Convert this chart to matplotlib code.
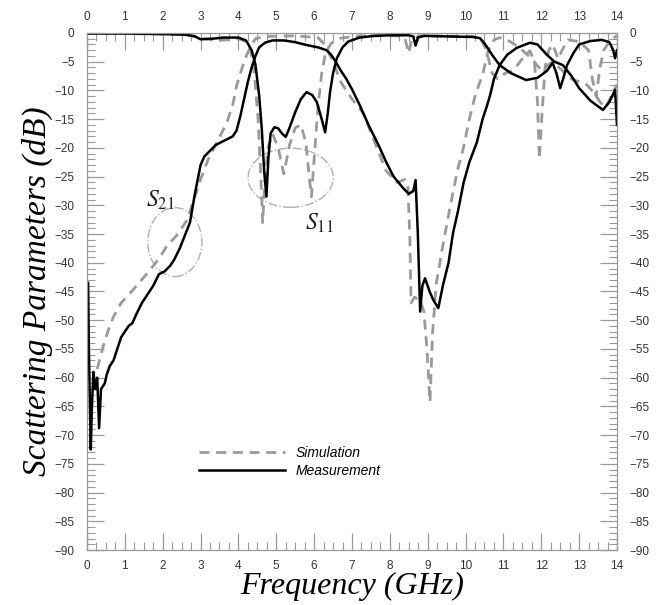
import matplotlib
matplotlib.use('Agg')
import matplotlib.pyplot as plt
from matplotlib.patches import Ellipse
from matplotlib.ticker import MultipleLocator

# measured S21
meas_s21_f = [0.03, 0.05, 0.1, 0.13, 0.17, 0.22, 0.27, 0.32, 0.37, 0.42, 0.47, 0.52, 0.6, 0.7, 0.8,
              0.9, 1.0, 1.1, 1.2, 1.3, 1.45, 1.6, 1.75, 1.9, 2.05, 2.2, 2.3, 2.45, 2.6, 2.72, 2.85,
              3.0, 3.1, 3.25, 3.4, 3.55, 3.7, 3.85, 3.95, 4.05, 4.15, 4.25, 4.35, 4.45, 4.55, 4.7,
              4.9, 5.2, 5.5, 5.8, 6.1, 6.33, 6.45, 6.55, 6.7, 6.85, 7.0, 7.2, 7.45, 7.7, 7.92, 8.1,
              8.35, 8.5, 8.62, 8.68, 8.74, 8.8, 8.86, 8.93, 9.05, 9.15, 9.28, 9.4, 9.55, 9.67, 9.8,
              9.95, 10.1, 10.3, 10.45, 10.56, 10.65, 10.75, 10.9, 11.1, 11.35, 11.7, 11.9, 12.15,
              12.35, 12.57, 12.8, 13.0, 13.3, 13.63, 13.8, 13.95, 14.0]
meas_s21_db = [-43.5, -55, -72.5, -65, -59, -62, -60, -68.8, -62, -61.5, -61, -59.5, -58, -57, -55,
               -53, -52, -51, -50.5, -49, -47, -45.5, -44, -42, -41.5, -40.5, -39.5, -37.5, -35, -33, -28,
               -23, -21.5, -20.5, -19.5, -19, -18.5, -18, -17, -14.5, -11.5, -8.5, -6, -4, -2.5, -1.7,
               -1.3, -1.3, -1.6, -2.1, -2.5, -3, -3.8, -4.8, -6.5, -8, -9.8, -12.5, -16.2, -19.5, -22.7, -25,
               -27, -28, -27.5, -25.6, -35, -48.5, -44, -42.7, -45, -46.5, -47.9, -44, -40, -34.8, -31,
               -26, -22.5, -19, -15, -12.8, -10.8, -8, -5.6, -3.8, -2.6, -1.7, -2, -3.8,
               -5, -5.6, -7.5, -9.6, -11.8, -13.4, -12, -9.9, -16]

# measured S11
meas_s11_f = [0, 1, 2, 2.6, 2.85, 3.0, 3.3, 3.6, 4.0, 4.2, 4.35, 4.45, 4.55, 4.62, 4.68, 4.74, 4.79,
              4.85, 4.95, 5.05, 5.15, 5.25, 5.35, 5.5, 5.65, 5.8, 5.95, 6.07, 6.2, 6.29, 6.36, 6.42,
              6.5, 6.6, 6.75, 6.9, 7.2, 7.6, 8.0, 8.5, 8.62, 8.68, 8.74, 8.9, 9.5, 10.2, 10.38, 10.5,
              10.7, 10.9, 11.2, 11.6, 11.9, 12.15, 12.3, 12.4, 12.5, 12.6, 12.68, 12.85, 13.0, 13.3,
              13.6, 13.8, 13.9, 13.95, 14.0]
meas_s11_db = [-0.1, -0.1, -0.2, -0.3, -0.6, -1.1, -1.0, -0.8, -0.8, -1.3, -3, -5.5, -11, -17, -24, -28.5, -22,
               -17.5, -16.4, -16.6, -17.5, -18.1, -16.5, -13.8, -11.5, -10.3, -10.8, -12, -15, -17.3, -14, -10.3,
               -7, -4.4, -2.5, -1.5, -0.8, -0.5, -0.4, -0.4, -0.6, -2.2, -0.8, -0.5, -0.6, -0.7, -0.9, -1.8,
               -3.8, -5.6, -7, -8.2, -7.8, -6.6, -5.2, -7, -9.6, -7.5, -5.6, -3.5, -2, -1.4,
               -1.2, -1.6, -3, -4.4, -3]

# simulated S21
sim_s21_f = [0.27, 0.35, 0.43, 0.55, 0.7, 0.9, 1.14, 1.4, 1.66, 1.9, 2.1, 2.4, 2.64, 2.8, 3.0, 3.2, 3.4,
             3.55, 3.7, 3.85, 3.96, 4.1, 4.22, 4.35, 4.45, 4.7, 5.5, 6.1, 6.25, 6.35, 6.5, 6.7, 7.0, 7.3,
             7.6, 7.9, 8.2, 8.4, 8.48, 8.53, 8.56, 8.65, 8.8, 8.9, 8.98, 9.06, 9.13, 9.23, 9.4, 9.6, 9.8,
             9.93, 10.1, 10.25, 10.46, 10.6, 10.75, 10.9, 11.1, 11.3, 11.5, 11.75, 12.0, 12.3, 12.55, 12.8,
             13.0, 13.2, 13.4, 13.55, 13.7, 13.85, 14.0]
sim_s21_db = [-58.5, -56.5, -54.5, -52, -49.4, -47, -45.3, -43.3, -41.3, -39.3, -37.2, -35, -32.6, -29.5, -25.5, -22, -19.5,
              -17.5, -15.5, -12.5, -9, -6, -3.8, -2, -1, -0.6, -0.5, -0.8, -1.8, -3, -5, -8.5, -11.5, -14,
              -19, -24, -26, -25.5, -27, -36, -47, -46, -46.5, -48.5, -55, -64.2, -52, -43.5, -37, -30, -23.5,
              -20.4, -15, -11, -7, -3, -1.2, -0.8, -1.2, -2, -3, -4.5, -6.5, -5, -6.5, -8,
              -8.5, -9, -10.5, -12, -13, -11, -9]

# simulated S11
sim_s11_f = [0, 2.5, 2.8, 3.0, 3.5, 4.0, 4.2, 4.32, 4.42, 4.52, 4.6, 4.64, 4.7, 4.78, 4.9, 5.05, 5.2,
             5.35, 5.5, 5.65, 5.78, 5.87, 5.93, 6.0, 6.1, 6.2, 6.3, 6.45, 6.7, 7.2, 8.2, 8.4, 8.5, 8.58,
             8.8, 10.2, 10.4, 10.55, 10.7, 10.85, 11.05, 11.25, 11.5, 11.7, 11.82, 11.9, 11.95, 12.02,
             12.1, 12.2, 12.3, 12.45, 12.55, 12.7, 13.0, 13.25, 13.35, 13.45, 13.55, 13.65, 13.8, 13.95, 14.0]
sim_s11_db = [-0.05, -0.2, -0.5, -0.9, -1.3, -1.0, -1.5, -3, -7, -15, -26, -33, -26, -20, -17.5, -20, -24.5,
              -19.5, -16.5, -16, -19, -25, -28.5, -22, -13, -7, -3.5, -1.8, -0.9, -0.5, -0.5, -1, -3.5, -1,
              -0.5, -0.6, -1, -3, -7, -8, -7, -6.6, -4.5, -3.1, -5, -12, -22, -14,
              -6, -3, -2, -4.5, -3, -1.2, -1.5, -3, -8, -11, -6, -3, -1.5, -0.7, -0.5]

x_ticks = list(range(0, 15))
y_ticks = list(range(-90, 1, 5))

plt.rcParams['mathtext.fontset'] = 'stix'
fig = plt.figure(figsize=(6.62, 6.05), dpi=100)
ax = fig.add_axes([0.1314, 0.0909, 0.8006, 0.8546])

sim_kw = dict(color='#9a9a9a', lw=2.0, dashes=(3.6, 2.4))
ax.plot(sim_s21_f, sim_s21_db, label='Simulation', **sim_kw)
ax.plot(sim_s11_f, sim_s11_db, **sim_kw)
ax.plot(meas_s21_f, meas_s21_db, color='black', lw=1.8, label='Measurement')
ax.plot(meas_s11_f, meas_s11_db, color='black', lw=1.8)

# circled groups
for c, w, h in [((2.32, -36.4), 1.43, 12.0), ((5.38, -25.2), 2.25, 10.3)]:
    ax.add_patch(Ellipse(c, w, h, fill=False, ec='#b0b0b0', lw=1.0, ls='-.'))
ax.text(1.93, -29, r'$\mathit{S}_{\mathit{21}}$', fontsize=17, ha='center', va='center', color='#222222')
ax.text(6.15, -33, r'$\mathit{S}_{\mathit{11}}$', fontsize=17, ha='center', va='center', color='#222222')

ax.set_xlim(0, 14)
ax.set_ylim(-90, 0)
ax.set_xticks(x_ticks)
ax.set_yticks(y_ticks)
ax.xaxis.set_minor_locator(MultipleLocator(0.25))
ax.yaxis.set_minor_locator(MultipleLocator(1))
ax.tick_params(which='both', direction='in', top=True, right=True, labeltop=True, labelright=True,
               color='#999999', labelsize=8.5, labelcolor='#333333')
ax.tick_params(which='major', length=12, width=0.9)
ax.tick_params(which='minor', length=6, width=0.8)
ax.tick_params(axis='x', pad=7)
ax.tick_params(axis='y', pad=9)
for lbl in ax.get_xticklabels() + ax.get_yticklabels():
    lbl.set_family('Liberation Sans')
for s in ax.spines.values():
    s.set_color('#999999')
    s.set_linewidth(0.9)

ax.set_xlabel('Frequency (GHz)', family='Liberation Serif', style='italic', fontsize=23, labelpad=0)
ax.set_ylabel('Scattering Parameters (dB)', family='Liberation Serif', style='italic', fontsize=24,
              labelpad=1)

leg = ax.legend(loc='center left', bbox_to_anchor=(0.211, 0.171), frameon=False, borderpad=0,
                borderaxespad=0, handlelength=6.2, handletextpad=0.75, labelspacing=0.3,
                prop={'family': 'Liberation Sans', 'style': 'italic', 'size': 10})

fig.savefig('out.png', dpi=100)
